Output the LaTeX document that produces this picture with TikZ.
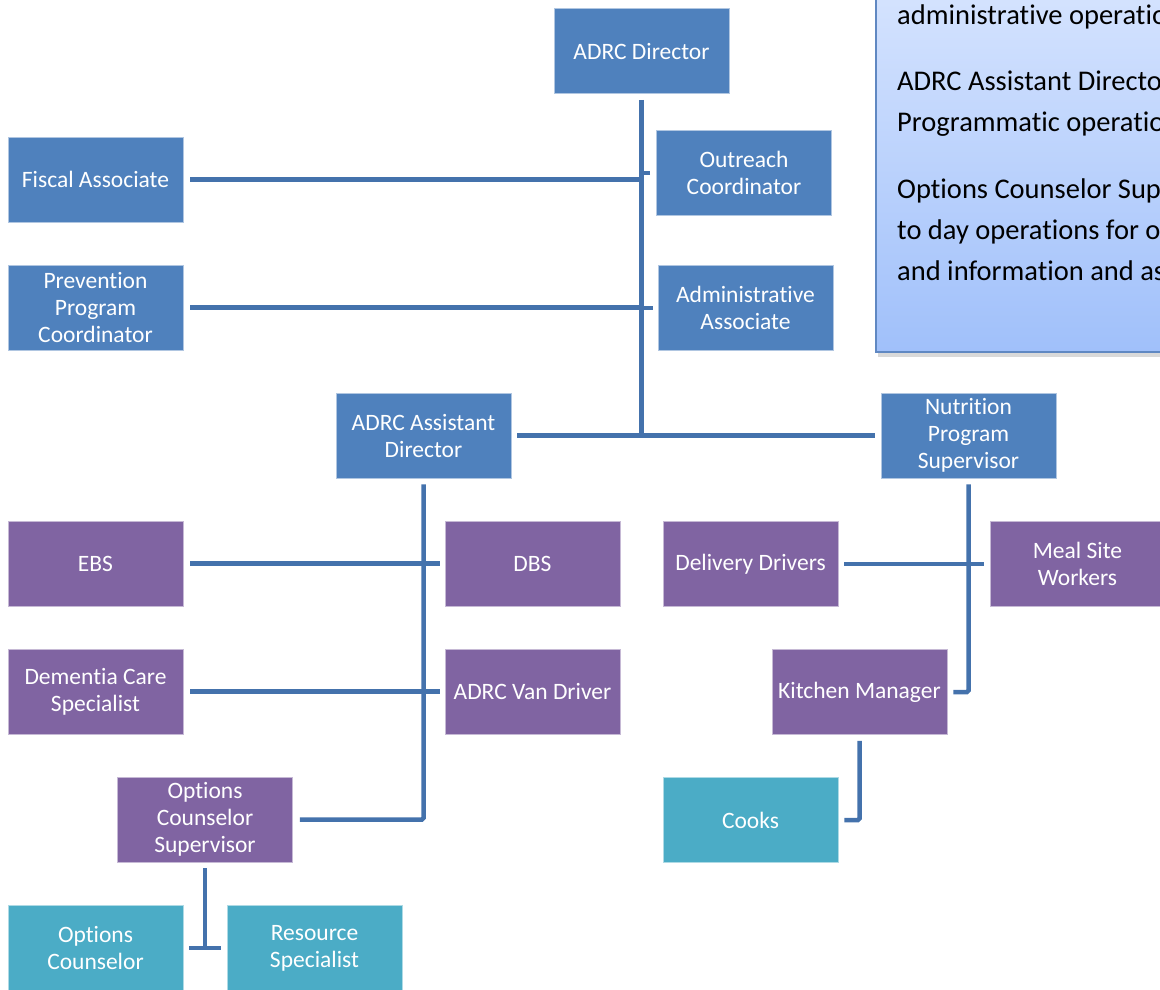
\documentclass[tikz,border=0pt]{standalone}
\usepackage{fontspec}
\setmainfont{Carlito}[RawFeature={-liga;-clig;-calt}]
\usetikzlibrary{shadows}

\definecolor{boxblue}{RGB}{79,129,189}
\definecolor{boxpurple}{RGB}{128,100,162}
\definecolor{boxteal}{RGB}{75,172,198}
\definecolor{linkblue}{RGB}{68,114,172}
\definecolor{notetop}{RGB}{220,232,255}
\definecolor{notebottom}{RGB}{160,192,250}
\definecolor{noteedge}{RGB}{96,136,194}

\begin{document}
\begin{tikzpicture}[x=1pt, y=-1pt,
  unit/.style={rectangle, minimum width=175pt, minimum height=85pt, inner sep=2pt,
    align=center, text=white, font=\fontsize{23.5}{27}\selectfont,
    fill=#1, draw=white!55!#1, line width=0.6pt},
  link/.style={draw=linkblue, line width=4.5pt, rounded corners=1.5pt},
  notebox/.style={rectangle, minimum width=354pt, minimum height=412pt,
    top color=notetop, bottom color=notebottom, draw=noteedge, line width=1.5pt,
    drop shadow={shadow xshift=2pt, shadow yshift=-5pt, opacity=0.3}},
  notetext/.style={inner sep=0pt, anchor=base west, font=\fontsize{28.5}{41}\selectfont}]

\useasboundingbox (0,0) rectangle (1160,989);
\clip (0,0) rectangle (1160,989);

% Note box
\node[notebox] (note) at (1053,146) {};
\foreach \ypos/\txt [count=\i] in {24/administrative operations.,
  90/ADRC Assistant Director oversees,
  131/Programmatic operations.,
  198/Options Counselor Supervisor oversees day,
  239/to day operations for options counseling,
  280/and information and assistance.}
  \node[notetext] (line\i) at (897,\ypos) {\txt};

% Nodes
\node[unit=boxblue] (dir) at (641.5,51) {ADRC Director};
\node[unit=boxblue] (fiscal) at (95.5,179.5) {Fiscal Associate};
\node[unit=boxblue] (outreach) at (744,173) {Outreach\\Coordinator};
\node[unit=boxblue] (prev) at (95.5,307.5) {Prevention\\Program\\Coordinator};
\node[unit=boxblue] (admin) at (745.5,308) {Administrative\\Associate};
\node[unit=boxblue] (asst) at (423.5,435.5) {ADRC Assistant\\Director};
\node[unit=boxblue] (nutr) at (968.5,435.5) {Nutrition\\Program\\Supervisor};

\node[unit=boxpurple] (ebs) at (95.5,563.5) {EBS};
\node[unit=boxpurple] (dbs) at (532.5,563.5) {DBS};
\node[unit=boxpurple] (deliv) at (750.5,564) {Delivery Drivers};
\node[unit=boxpurple] (meal) at (1077.5,564) {Meal Site\\Workers};
\node[unit=boxpurple] (dementia) at (95.5,691.5) {Dementia Care\\Specialist};
\node[unit=boxpurple] (van) at (532.5,691.5) {ADRC Van Driver};
\node[unit=boxpurple] (kitchen) at (859.5,692) {Kitchen Manager};
\node[unit=boxpurple] (ocs) at (205,819.5) {Options\\Counselor\\Supervisor};

\node[unit=boxteal] (cooks) at (750.5,820) {Cooks};
\node[unit=boxteal] (oc) at (95.5,948) {Options\\Counselor};
\node[unit=boxteal] (res) at (314.5,948) {Resource\\Specialist};

% Edges
\draw[link] (dir.south) ++(0,6) -- (dir.south |- asst.east);
\draw[link] ([xshift=7pt]fiscal.east) -- (fiscal.east -| dir.south);
\draw[link] ([xshift=-6pt]outreach.west) -- (outreach.west -| dir.south);
\draw[link] ([xshift=7pt]prev.east) -- (prev.east -| dir.south);
\draw[link] ([xshift=-5pt]admin.west) -- (admin.west -| dir.south);
\draw[link] ([xshift=6pt]asst.east) -- ([xshift=-6pt]nutr.west);

\draw[link] (asst.south) ++(0,6) -- (asst.south |- ocs.east) -- ([xshift=7pt]ocs.east);
\draw[link] ([xshift=7pt]ebs.east) -- ([xshift=-5pt]dbs.west);
\draw[link] ([xshift=7pt]dementia.east) -- ([xshift=-5pt]van.west);

\draw[link] (nutr.south) ++(0,6) -- (nutr.south |- kitchen.east) -- ([xshift=6pt]kitchen.east);
\draw[link] ([xshift=6pt]deliv.east) -- ([xshift=-6pt]meal.west);
\draw[link] (kitchen.south) ++(0,6) -- (kitchen.south |- cooks.east) -- ([xshift=6pt]cooks.east);

\draw[link] (ocs.south) ++(0,6) -- (ocs.south |- oc.east);
\draw[link] ([xshift=6pt]oc.east) -- ([xshift=-6pt]res.west);

\end{tikzpicture}
\end{document}
